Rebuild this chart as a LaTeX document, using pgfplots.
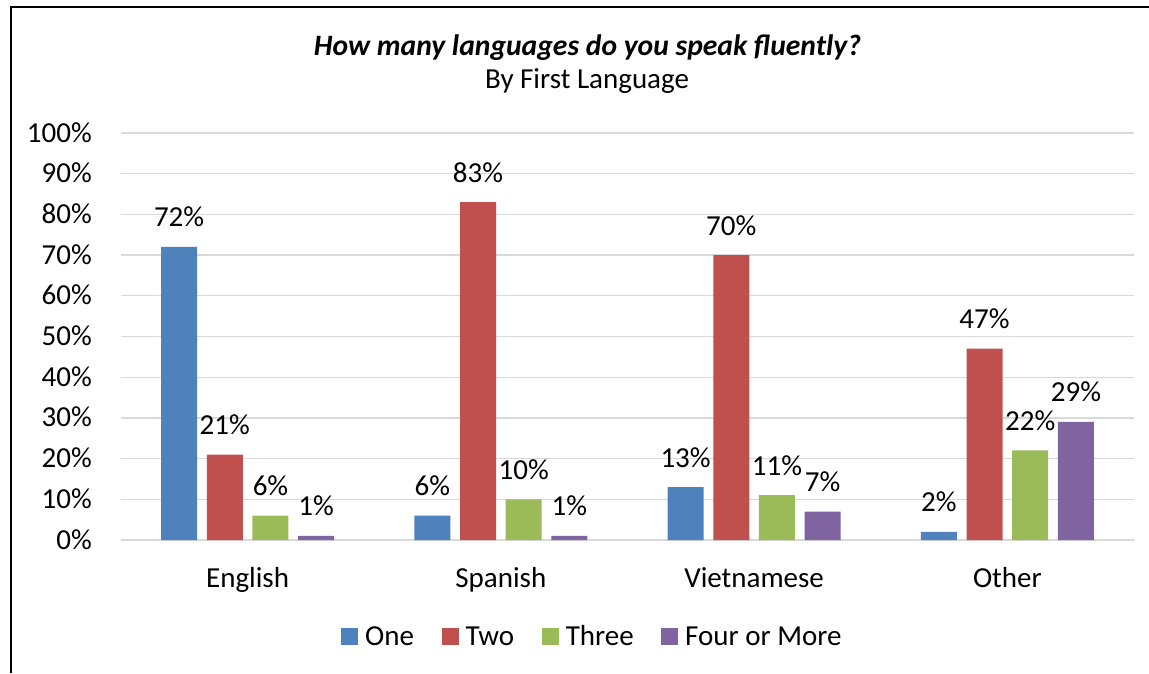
\documentclass[border=0pt]{standalone}
\usepackage{fontspec}
\setmainfont{Carlito}
\usepackage{pgfplots}
\pgfplotsset{compat=1.18}
\definecolor{cOne}{HTML}{4F81BD}
\definecolor{cTwo}{HTML}{C0504D}
\definecolor{cThree}{HTML}{9BBB59}
\definecolor{cFour}{HTML}{8064A2}
\definecolor{gridgray}{HTML}{D9D9D9}

\begin{document}
\fontsize{29}{35}\selectfont
\begin{tikzpicture}
\useasboundingbox (0pt,0pt) rectangle (1149pt,673pt);
\draw[line width=2pt] (11pt,0pt) -- (11pt,665.5pt) -- (1149pt,665.5pt);
\node[anchor=base, font=\fontsize{29.6}{35}\selectfont\bfseries\itshape] at (587.5pt,617pt) {How many languages do you speak fluently?};
\node[anchor=base] at (587pt,584pt) {By First Language};
\begin{axis}[
  at={(121pt,133pt)}, anchor=south west,
  scale only axis, width=1013pt, height=407pt,
  ybar=9.7pt, bar width=36pt,
  xmin=-0.5, xmax=3.5, ymin=0, ymax=100,
  xtick={0,1,2,3}, xticklabels={English,Spanish,Vietnamese,Other},
  ytick={0,10,...,100},
  yticklabel={\pgfmathprintnumber{\tick}\%},
  major tick length=0pt,
  axis line style={draw=none},
  ymajorgrids, grid style={color=gridgray, line width=1.3pt},
  xticklabel style={anchor=base, inner sep=0pt, yshift=-47pt},
  yticklabel style={anchor=base east, inner sep=0pt, xshift=-29pt, yshift=-9pt},
  /pgf/number format/assume math mode=true,
  nodes near coords={\pgfmathprintnumber{\pgfplotspointmeta}\%},
  nodes near coords style={anchor=base, inner sep=0pt, yshift=20pt, black},
  every axis plot post/.append style={
    legend image code/.code={\draw[##1,/tikz/.cd,draw=none] (0pt,0pt) rectangle (17pt,17pt);}},
  legend columns=4,
  legend style={draw=none, fill=none, inner sep=0pt,
    at={(0.2172,-0.2396)}, anchor=west,
    /tikz/every odd column/.append style={column sep=7pt},
    /tikz/every even column/.append style={column sep=27.5pt},
    nodes={inner sep=0pt, anchor=base west}},
]
\addplot[fill=cOne, draw=none] coordinates {(0,72) (1,6) (2,13) (3,2)};
\addplot[fill=cTwo, draw=none] coordinates {(0,21) (1,83) (2,70) (3,47)};
\addplot[fill=cThree, draw=none] coordinates {(0,6) (1,10) (2,11) (3,22)};
\addplot[fill=cFour, draw=none] coordinates {(0,1) (1,1) (2,7) (3,29)};
\legend{One, Two, Three, Four or More}
\end{axis}
\end{tikzpicture}
\end{document}
